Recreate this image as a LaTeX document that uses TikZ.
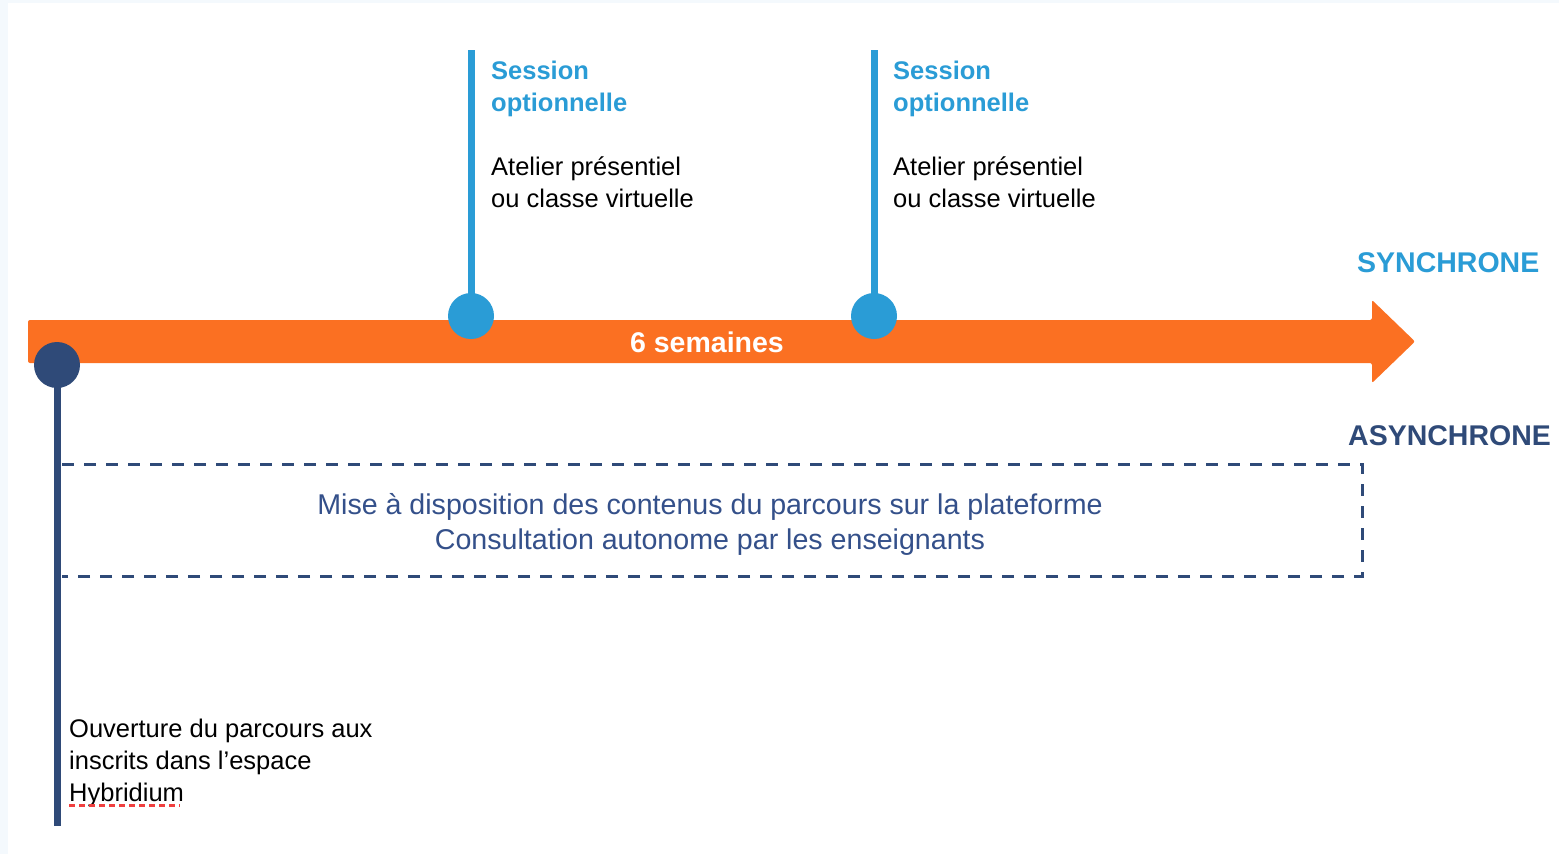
\documentclass[tikz,border=0pt]{standalone}
\usepackage{fontspec}
\setmainfont{Liberation Sans}
\definecolor{orng}{HTML}{FB7022}
\definecolor{sky}{HTML}{2A9CD6}
\definecolor{navy}{HTML}{2F4A78}
\definecolor{boxtxt}{HTML}{34508A}
\definecolor{strip}{HTML}{F4F9FD}
\definecolor{spell}{HTML}{F04040}
\begin{document}
\begin{tikzpicture}[x=1pt,y=-1pt,
  dot/.style={circle, inner sep=0pt, minimum size=46pt},
  stem/.style={line width=7pt},
  lbl/.style={anchor=base west, inner sep=0pt, font=\fontsize{25.5}{32}\selectfont, text=black},
  head/.style={anchor=base west, inner sep=0pt, font=\bfseries\fontsize{25.5}{32}\selectfont, text=sky},
  mode/.style={anchor=base west, inner sep=0pt, font=\bfseries\fontsize{28.5}{34}\selectfont},
  boxline/.style={anchor=base, inner sep=0pt, font=\fontsize{28.6}{35}\selectfont, text=boxtxt}]
\useasboundingbox (0,0) rectangle (1559,854);
\fill[strip] (0,0) rectangle (8,854);
\fill[strip] (0,0) rectangle (1559,3);
\fill[white] (8,3) rectangle (1559,854);

% orange timeline arrow
\fill[orng, rounded corners=2pt] (28,320) -- (1372,320) -- (1372,300) -- (1415,341.5) -- (1372,383) -- (1372,363) -- (28,363) -- cycle;
\node[anchor=base, inner sep=0pt, font=\bfseries\fontsize{28.5}{34}\selectfont, text=white] (weeks) at (707,352) {6 semaines};

% optional sessions
\coordinate (t1) at (471,50);
\node[dot, fill=sky] (s1) at (471,316) {};
\draw[sky, stem] (s1.center) -- (t1);
\coordinate (t2) at (874,50);
\node[dot, fill=sky] (s2) at (874,316) {};
\draw[sky, stem] (s2.center) -- (t2);

\node[head] (h1a) at (491,79) {Session};
\node[head] (h1b) at (491,111) {optionnelle};
\node[lbl] (l1a) at (491,175) {Atelier présentiel};
\node[lbl] (l1b) at (491,207) {ou classe virtuelle};

\node[head] (h2a) at (893,79) {Session};
\node[head] (h2b) at (893,111) {optionnelle};
\node[lbl] (l2a) at (893,175) {Atelier présentiel};
\node[lbl] (l2b) at (893,207) {ou classe virtuelle};

% modes
\node[mode, text=sky] (sync) at (1357,272) {SYNCHRONE};
\node[mode, text=navy] (async) at (1348,445) {ASYNCHRONE};

% opening stem
\coordinate (b0) at (57,826);
\draw[navy, stem] (57,365) -- (b0);
\node[dot, fill=navy] (d0) at (57,365) {};

% dashed box
\coordinate (bx1) at (62,464);
\coordinate (bx2) at (1362,464);
\coordinate (bx3) at (1362,576);
\coordinate (bx4) at (62,576);
\draw[navy, line width=3pt, dash pattern=on 12pt off 10pt] (bx1) -- (bx2) -- (bx3) -- (bx4);
\node[boxline] (m1) at (710,514) {Mise à disposition des contenus du parcours sur la plateforme};
\node[boxline] (m2) at (710,549) {Consultation autonome par les enseignants};

% opening text
\node[lbl] (o1) at (69,737) {Ouverture du parcours aux};
\node[lbl] (o2) at (69,769) {inscrits dans l’espace};
\node[lbl] (o3) at (69,801) {Hybridium};
\draw[spell, line width=3pt, dash pattern=on 6pt off 4pt] (o3.base west) ++(0,4) -- ++(111,0);
\end{tikzpicture}
\end{document}
